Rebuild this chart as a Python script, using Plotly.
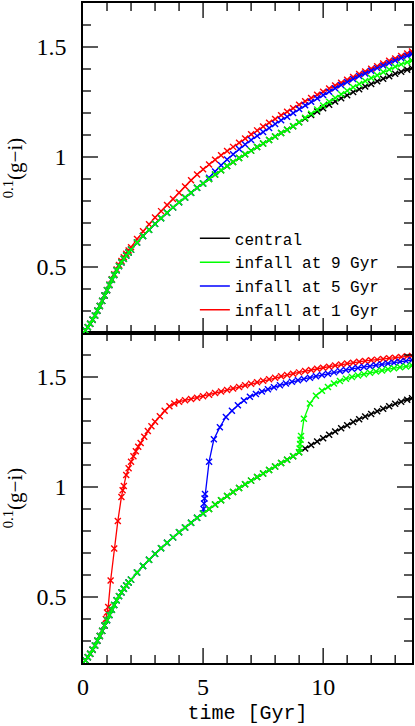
import plotly.graph_objects as go

# time grid shared by the central track (Gyr)
t_grid = [0.0, 0.1, 0.2, 0.3, 0.4, 0.5, 0.6, 0.7, 0.8, 0.9,
          1.0, 1.1, 1.2, 1.3, 1.4, 1.5, 1.6, 1.7, 1.8, 1.9,
          2.0, 2.25, 2.5, 2.75, 3.0, 3.25, 3.5, 3.75, 4.0, 4.25, 4.5, 4.75,
          5.0, 5.25, 5.5, 5.75, 6.0, 6.25, 6.5, 6.75, 7.0, 7.25, 7.5, 7.75,
          8.0, 8.25, 8.5, 8.75, 9.0, 9.25, 9.5, 9.75, 10.0, 10.25, 10.5, 10.75,
          11.0, 11.25, 11.5, 11.75, 12.0, 12.25, 12.5, 12.75, 13.0, 13.25, 13.5, 13.7]

central = [0.200, 0.212, 0.226, 0.242, 0.260, 0.280, 0.301, 0.323, 0.346, 0.370,
           0.394, 0.418, 0.442, 0.464, 0.485, 0.504, 0.521, 0.537, 0.552, 0.566,
           0.579, 0.611, 0.641, 0.669, 0.696, 0.722, 0.747, 0.771, 0.794, 0.816, 0.838, 0.860,
           0.880, 0.900, 0.920, 0.940, 0.959, 0.977, 0.995, 1.012, 1.029, 1.045, 1.061, 1.077,
           1.093, 1.109, 1.124, 1.140, 1.158, 1.175, 1.191, 1.207, 1.222, 1.237, 1.252, 1.267,
           1.281, 1.295, 1.308, 1.320, 1.332, 1.344, 1.356, 1.367, 1.378, 1.388, 1.397, 1.404]

# upper panel: satellites, values on t_grid from infall onwards
top_red = [0.394, 0.419, 0.444, 0.467, 0.489, 0.509, 0.527, 0.544, 0.560, 0.575,
           0.590, 0.627, 0.662, 0.694, 0.725, 0.754, 0.782, 0.809, 0.838, 0.866, 0.894, 0.920,
           0.944, 0.966, 0.988, 1.008, 1.027, 1.046, 1.065, 1.084, 1.103, 1.121, 1.139, 1.156,
           1.173, 1.190, 1.206, 1.222, 1.238, 1.253, 1.268, 1.283, 1.297, 1.311, 1.325, 1.338,
           1.351, 1.364, 1.377, 1.389, 1.401, 1.413, 1.425, 1.437, 1.448, 1.459, 1.470, 1.480]
top_blue = [0.880, 0.906, 0.934, 0.962, 0.989, 1.013, 1.036, 1.057, 1.077, 1.096, 1.114, 1.132,
            1.150, 1.167, 1.183, 1.200, 1.218, 1.235, 1.251, 1.267, 1.282, 1.297, 1.312, 1.327,
            1.341, 1.355, 1.368, 1.380, 1.392, 1.404, 1.416, 1.427, 1.439, 1.450, 1.460, 1.468]
top_green = [1.158, 1.178, 1.197, 1.216, 1.234, 1.251, 1.268, 1.285,
             1.301, 1.317, 1.332, 1.345, 1.359, 1.372, 1.386, 1.398, 1.410, 1.421, 1.431, 1.439]

# lower panel: satellites after infall, own time sampling
red_fall_t = [0.9, 0.95, 1.0, 1.05, 1.15, 1.3, 1.45, 1.6, 1.65, 1.7, 1.8, 1.9, 2.0, 2.1,
              2.2, 2.3, 2.4, 2.55, 2.7, 2.85, 3.0, 3.2, 3.4, 3.6, 3.8, 4.0,
              4.25, 4.5, 4.75, 5.0, 5.25, 5.5, 5.75, 6.0, 6.25, 6.5, 6.75, 7.0, 7.25, 7.5, 7.75,
              8.0, 8.25, 8.5, 8.75, 9.0, 9.25, 9.5, 9.75, 10.0, 10.25, 10.5, 10.75, 11.0, 11.25,
              11.5, 11.75, 12.0, 12.25, 12.5, 12.75, 13.0, 13.25, 13.5, 13.7]
red_fall_c = [0.37, 0.40, 0.43, 0.455, 0.575, 0.72, 0.845, 0.955, 0.985, 1.005, 1.055, 1.085,
              1.115, 1.14, 1.162, 1.183, 1.2, 1.228, 1.255, 1.276, 1.297, 1.322, 1.347, 1.367,
              1.38, 1.388,
              1.394, 1.400, 1.406, 1.412, 1.419, 1.427, 1.434, 1.441, 1.448, 1.455, 1.462, 1.469,
              1.476, 1.483, 1.49, 1.497, 1.503, 1.509, 1.515, 1.521, 1.527, 1.532, 1.537, 1.542,
              1.547, 1.552, 1.557, 1.561, 1.565, 1.569, 1.573, 1.576, 1.579, 1.582, 1.585, 1.588,
              1.591, 1.594, 1.596]

blue_fall_t = [5.0, 5.02, 5.04, 5.06, 5.08, 5.25, 5.45, 5.7, 5.95, 6.2, 6.45, 6.7, 6.95, 7.2,
               7.45, 7.7, 7.95, 8.2, 8.45, 8.7, 8.95, 9.2, 9.45, 9.7, 9.95, 10.2, 10.45, 10.7,
               10.95, 11.2, 11.45, 11.7, 11.95, 12.2, 12.45, 12.7, 12.95, 13.2, 13.45, 13.7]
blue_fall_c = [0.880, 0.90, 0.925, 0.948, 0.968, 1.115, 1.217, 1.272, 1.318, 1.347, 1.372, 1.393,
               1.41, 1.423, 1.434, 1.444, 1.453, 1.462, 1.47, 1.478, 1.485, 1.491, 1.497, 1.503,
               1.509, 1.515, 1.521, 1.527, 1.532, 1.537, 1.541, 1.545, 1.549, 1.553, 1.557, 1.561,
               1.565, 1.569, 1.573, 1.577]

green_fall_t = [9.0, 9.02, 9.04, 9.06, 9.08, 9.2, 9.45, 9.7, 9.95, 10.2, 10.45, 10.7, 10.95,
                11.2, 11.45, 11.7, 11.95, 12.2, 12.45, 12.7, 12.95, 13.2, 13.45, 13.7]
green_fall_c = [1.158, 1.175, 1.195, 1.215, 1.232, 1.31, 1.38, 1.415, 1.437, 1.455, 1.47, 1.482,
                1.492, 1.5, 1.507, 1.513, 1.519, 1.525, 1.53, 1.535, 1.54, 1.544, 1.548, 1.552]

labels = ["central", "infall at 9 Gyr", "infall at 5 Gyr", "infall at 1 Gyr"]
colors = ["#000000", "#00ff00", "#0000ff", "#ff0000"]

# tick positions of the framed axes
x_major = [5, 10]
x_minor = [1, 2, 3, 4, 6, 7, 8, 9, 11, 12, 13]
y_major = [0.5, 1.0, 1.5]
y_minor = [0.3, 0.4, 0.6, 0.7, 0.8, 0.9, 1.1, 1.2, 1.3, 1.4, 1.6]

XR = [0, 13.7]
YR = [0.2, 1.7]

i09 = t_grid.index(0.9)
i1 = t_grid.index(1.0)
i5 = t_grid.index(5.0)
i9 = t_grid.index(9.0)

top_tracks = [
    (t_grid, central, colors[0]),
    (t_grid, central[:i1] + top_red, colors[3]),
    (t_grid, central[:i5] + top_blue, colors[2]),
    (t_grid, central[:i9] + top_green, colors[1]),
]
bottom_tracks = [
    (t_grid, central, colors[0]),
    (t_grid[:i09] + red_fall_t, central[:i09] + red_fall_c, colors[3]),
    (t_grid[:i5] + blue_fall_t, central[:i5] + blue_fall_c, colors[2]),
    (t_grid[:i9] + green_fall_t, central[:i9] + green_fall_c, colors[1]),
]

fig = go.Figure()


def add_tracks(tracks, xa, ya):
    for x, y, c in tracks:
        fig.add_trace(go.Scatter(
            x=x, y=y, mode="lines+markers", xaxis=xa, yaxis=ya,
            line=dict(color=c, width=1.3),
            marker=dict(symbol="x-thin", size=6, color=c, line=dict(color=c, width=1.4)),
            showlegend=False, hoverinfo="skip"))


add_tracks(top_tracks, "x2", "y2")
add_tracks(bottom_tracks, "x", "y")

# legend entries show plain lines only
for lab, c in zip(labels, colors):
    fig.add_trace(go.Scatter(x=[None], y=[None], mode="lines", name=lab,
                             xaxis="x2", yaxis="y2",
                             line=dict(color=c, width=1.5)))

# inward ticks on all four sides, anchored to the axis range ends
tick_line = dict(color="black", width=1.3)
shapes = []
for xr, yr in [("x", "y"), ("x2", "y2")]:
    for v, ln in [(v, 15) for v in x_major] + [(v, 8) for v in x_minor]:
        for anchor, sgn in [(YR[0], 1), (YR[1], -1)]:
            shapes.append(dict(type="line", xref=xr, yref=yr, x0=v, x1=v,
                               ysizemode="pixel", yanchor=anchor, y0=0, y1=sgn * ln,
                               line=tick_line, layer="above"))
    for v, ln in [(v, 15) for v in y_major] + [(v, 8) for v in y_minor]:
        for anchor, sgn in [(XR[0], 1), (XR[1], -1)]:
            shapes.append(dict(type="line", xref=xr, yref=yr, y0=v, y1=v,
                               xsizemode="pixel", xanchor=anchor, x0=0, x1=sgn * ln,
                               line=tick_line, layer="above"))

tick_font = dict(family="Liberation Serif", size=24, color="black")
# outside ticks kept transparent: they only set the gap to the tick labels
ax = dict(showline=True, linecolor="black", linewidth=1.5, mirror=True,
          ticks="outside", tickcolor="rgba(0,0,0,0)",
          tickmode="linear", showgrid=False, zeroline=False, tickfont=tick_font)

ytitle = dict(text="<sup>0.1</sup>(g\u2212i)",
              font=dict(family="Liberation Serif", size=21, color="black"),
              standoff=8)

fig.update_layout(
    width=415, height=726,
    margin=dict(l=83, r=1, t=2, b=63),
    paper_bgcolor="white", plot_bgcolor="white",
    shapes=shapes,
    xaxis=dict(ax, range=XR, domain=[0, 1], anchor="y", ticklen=1,
               tick0=0, dtick=5,
               title=dict(text="time [Gyr]",
                          font=dict(family="Liberation Mono", size=20, color="black"),
                          standoff=6)),
    yaxis=dict(ax, range=YR, domain=[0, 0.5], anchor="x", ticklen=10,
               tick0=0.5, dtick=0.5, title=ytitle),
    xaxis2=dict(ax, range=XR, domain=[0, 1], anchor="y2", ticklen=1,
                tick0=0, dtick=5, showticklabels=False),
    yaxis2=dict(ax, range=YR, domain=[0.5, 1], anchor="x2", ticklen=10,
                tick0=0.5, dtick=0.5, title=ytitle),
    legend=dict(x=0.34, y=0.669, xanchor="left", yanchor="top",
                bgcolor="rgba(0,0,0,0)", borderwidth=0, tracegroupgap=0,
                font=dict(family="Liberation Mono", size=16, color="black"),
                itemwidth=30),
)

fig.write_html("out.html", post_script="document.body.style.margin='0px';",
               config={"displayModeBar": False})
